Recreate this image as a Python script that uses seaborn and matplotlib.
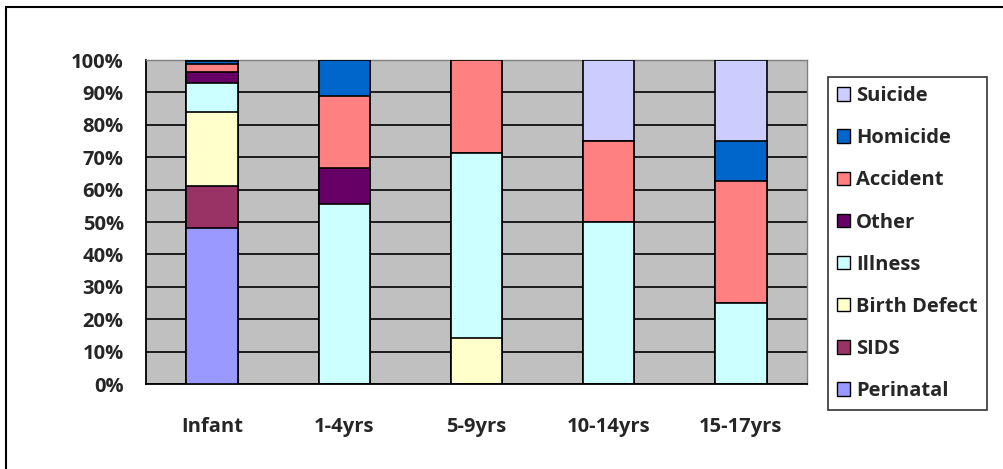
import numpy as np
import pandas as pd
import matplotlib
matplotlib.use("Agg")
import matplotlib.pyplot as plt
import seaborn as sns
from matplotlib.patches import Patch, Rectangle
from matplotlib.ticker import PercentFormatter

sns.set_style("white")
plt.rcParams["font.family"] = ["Open Sans", "DejaVu Sans"]
plt.rcParams["font.weight"] = "bold"

groups = ["Infant", "1-4yrs", "5-9yrs", "10-14yrs", "15-17yrs"]
causes = ["Perinatal", "SIDS", "Birth Defect", "Illness", "Other", "Accident", "Homicide", "Suicide"]

perinatal = [48.0, 0, 0, 0, 0]
sids = [13.2, 0, 0, 0, 0]
birth_defect = [22.7, 0, 14.3, 0, 0]
illness = [9.0, 55.6, 57.1, 50.0, 25.0]
other = [3.5, 11.1, 0, 0, 0]
accident = [2.4, 22.2, 28.6, 25.0, 37.5]
homicide = [1.0, 11.1, 0, 0, 12.5]
suicide = [0.2, 0, 0, 25.0, 25.0]

colors = ["#9999FF", "#993366", "#FFFFCC", "#CCFFFF", "#660066", "#FF8080", "#0066CC", "#CCCCFF"]

df = pd.DataFrame(
    np.array([perinatal, sids, birth_defect, illness, other, accident, homicide, suicide]).T,
    index=groups, columns=causes,
)
cum = df.cumsum(axis=1)

fig = plt.figure(figsize=(10.04, 4.69), dpi=100)
ax = fig.add_axes([146 / 1004, 1 - 384 / 469, (807 - 146) / 1004, (384 - 60) / 469])
ax.set_facecolor("#C0C0C0")

# stacked bars: draw the cumulative totals from the top segment down
for cause, col in zip(causes[::-1], colors[::-1]):
    sns.barplot(x=groups, y=cum[cause].values, color=col, width=0.39,
                edgecolor="black", linewidth=1.2, saturation=1, ax=ax, zorder=3)

ax.set_ylim(0, 100)
ax.set_xlim(-0.5, 4.5)
ax.set_yticks(np.arange(0, 101, 10))
ax.yaxis.set_major_formatter(PercentFormatter(decimals=0))
ax.grid(axis="y", color="black", linewidth=1.2, zorder=1)
ax.set_axisbelow(True)

fs = 14.5
ax.set_xticks(range(5))
ax.set_xticklabels(groups)
ax.set_xticks(np.arange(-0.5, 5, 1), minor=True)
ax.tick_params(axis="x", which="major", length=0, pad=24, labelsize=fs)
ax.tick_params(axis="x", which="minor", length=7, width=1.2, direction="out", color="black")
ax.tick_params(axis="y", length=9, width=1.2, direction="out", color="black", labelsize=fs, pad=7)
for lab in ax.get_xticklabels() + ax.get_yticklabels():
    lab.set_fontweight("bold")

for side in ["left", "bottom"]:
    ax.spines[side].set_color("black")
    ax.spines[side].set_linewidth(1.3)
for side in ["top", "right"]:
    ax.spines[side].set_color("#808080")
    ax.spines[side].set_linewidth(1.0)

handles = [Patch(facecolor=c, edgecolor="black", linewidth=1.0, label=n)
           for n, c in zip(causes[::-1], colors[::-1])]
leg = fig.legend(handles=handles, loc="upper left",
                 bbox_to_anchor=(828 / 1004, 1 - 77 / 469),
                 frameon=True, fancybox=False, edgecolor="black",
                 prop={"weight": "bold", "size": fs},
                 handlelength=0.65, handleheight=0.65, handletextpad=0.3,
                 labelspacing=1.1, borderpad=0.45, borderaxespad=0)
leg.get_frame().set_linewidth(1.2)

# outer chart border
fig.patches.append(Rectangle((6 / 1004, -0.2), 2.0, 1.2 - 7 / 469, transform=fig.transFigure,
                             fill=False, edgecolor="black", linewidth=1.5, clip_on=False))

fig.savefig("out.png", dpi=100)
